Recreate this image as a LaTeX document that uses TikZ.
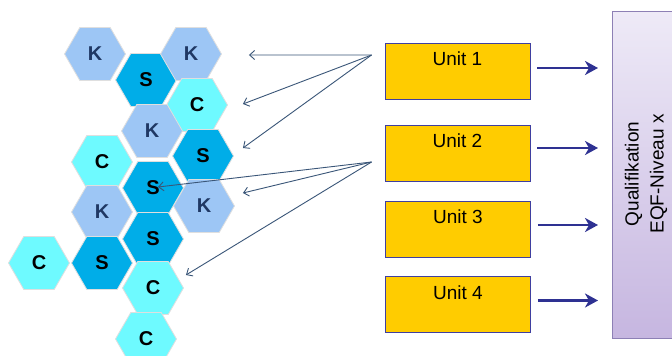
\documentclass[tikz,border=0pt]{standalone}
\usepackage{fontspec}
\setmainfont{Liberation Sans}
\usetikzlibrary{shapes.geometric,arrows.meta,calc,shadings}
\definecolor{kfill}{HTML}{9DC6F5}
\definecolor{sfill}{HTML}{00ADE8}
\definecolor{cfill}{HTML}{6EFAFF}
\definecolor{knavy}{HTML}{1F3864}
\definecolor{unitfill}{HTML}{FFCC00}
\definecolor{unitdraw}{HTML}{3F3FA0}
\definecolor{colfat}{HTML}{2E3192}
\definecolor{colthin}{HTML}{3A5678}
\definecolor{qtop}{HTML}{EEEAF7}
\definecolor{qbot}{HTML}{C6B6E0}
\definecolor{qdraw}{HTML}{8D80B5}
\begin{document}
\begin{tikzpicture}[x=1pt,y=-1pt,
 hexbox/.style={regular polygon, regular polygon sides=6, minimum size=61pt, inner sep=0pt, draw=gray!25, line width=0.8pt, font=\fontsize{20}{22}\selectfont\bfseries},
 khex/.style={hexbox, fill=kfill, text=knavy},
 shex/.style={hexbox, fill=sfill, text=black},
 chex/.style={hexbox, fill=cfill, text=black},
 unitbox/.style={draw=unitdraw, line width=0.9pt, fill=unitfill, minimum width=145pt, minimum height=56pt, inner sep=0pt},
 unitlabel/.style={anchor=base, font=\fontsize{19}{22}\selectfont, inner sep=0pt},
 fatarrow/.style={draw=colfat, line width=2.6pt, -{Stealth[length=13pt,width=14pt,inset=4pt]}},
 thinarrow/.style={draw=colthin, line width=0.9pt, -{Straight Barb[length=5pt,width=9pt]}},
]
\useasboundingbox (0,0) rectangle (672,356);
\clip (0,0) rectangle (672,356);
\fill[white] (0,0) rectangle (672,356);

% hexagons
\node[khex] (K1) at (95,54) {K};
\node[shex] (S1) at (146,80) {S};
\node[khex] (K2) at (191,54) {K};
\node[chex] (C1) at (197,105) {C};
\node[khex] (K3) at (152,131) {K};
\node[chex] (C2) at (102,162) {C};
\node[shex] (S2) at (203,156) {S};
\node[shex] (S3) at (153,188) {S};
\node[khex] (K4) at (102,212) {K};
\node[khex] (K5) at (204,206) {K};
\node[shex] (S4) at (153,239) {S};
\node[chex] (C3) at (39,263) {C};
\node[shex] (S5) at (102,263) {S};
\node[chex] (C4) at (153,288) {C};
\node[chex] (C5) at (146,339) {C};

% units
\node[unitbox] (u1) at (457.5,71) {};
\node[unitbox] (u2) at (457.5,153) {};
\node[unitbox] (u3) at (458,229) {};
\node[unitbox] (u4) at (458,304.5) {};
\node[unitlabel] (u1t) at ($(u1.north)+(0,23)$) {Unit 1};
\node[unitlabel] (u2t) at ($(u2.north)+(0,23)$) {Unit 2};
\node[unitlabel] (u3t) at ($(u3.north)+(0,23)$) {Unit 3};
\node[unitlabel] (u4t) at ($(u4.north)+(0,23)$) {Unit 4};

% qualification
\node[draw=qdraw, line width=0.9pt, top color=qtop, bottom color=qbot, minimum width=80pt, minimum height=327pt, anchor=north west, inner sep=0pt] (q) at (612,11) {};
\node[rotate=90, align=center, font=\fontsize{19}{25}\selectfont, inner sep=0pt] (qt) at (646,174) {Qualifikation\\EQF-Niveau x};

% fat arrows
\draw[fatarrow] ($(u1.east)+(7,-3)$) -- ($(q.west |- u1.east)+(-14,-3)$);
\draw[fatarrow] ($(u2.east)+(7,-5)$) -- ($(q.west |- u2.east)+(-14,-5)$);
\draw[fatarrow] ($(u3.east)+(7,-4)$) -- ($(q.west |- u3.east)+(-14,-4)$);
\draw[fatarrow] ($(u4.east)+(7,-4)$) -- ($(q.west |- u4.east)+(-14,-4)$);

% thin arrows
\coordinate (src1) at ($(u1.west)+(-13,-16)$);
\coordinate (src2) at ($(u2.west)+(-13,9)$);
\coordinate (t1) at ($(K2.east)+(27,1)$);
\coordinate (t2) at ($(C1.east)+(15,-1)$);
\coordinate (t3) at ($(S2.east)+(9,-8)$);
\coordinate (t4) at ($(S3.center)+(5,-1)$);
\coordinate (t5) at ($(K5.east)+(8,-13)$);
\coordinate (t6) at ($(C4.east)+(2,-13)$);
\draw[thinarrow] (src1) -- (t1);
\draw[thinarrow] (src1) -- (t2);
\draw[thinarrow] (src1) -- (t3);
\draw[thinarrow] (src2) -- (t4);
\draw[thinarrow] (src2) -- (t5);
\draw[thinarrow] (src2) -- (t6);
\end{tikzpicture}
\end{document}
